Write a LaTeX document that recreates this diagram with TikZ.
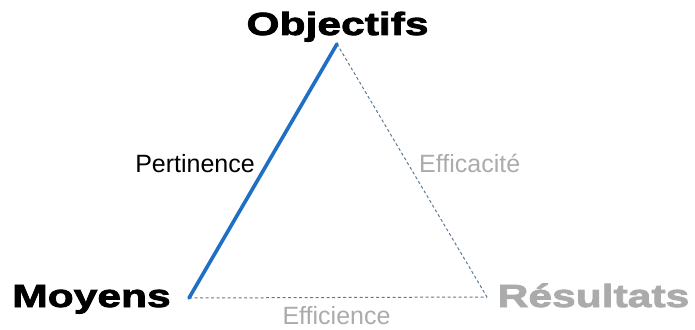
\documentclass[tikz,border=0pt]{standalone}
\usepackage{fontspec}
\setmainfont{Liberation Sans}
\newfontfamily\titlefont[FakeStretch=1.33,FakeBold=2.5]{Liberation Sans}
\usepackage{xcolor}
\usepackage{tikz}
\definecolor{axeblue}{HTML}{1F6FC4}
\definecolor{dashblue}{HTML}{5F7A92}
\definecolor{softgray}{HTML}{ABABAB}

\begin{document}
\begin{tikzpicture}[x=1pt, y=1pt, every node/.style={inner sep=0pt, anchor=base},
  pole/.style={font=\titlefont\bfseries\fontsize{32}{32}\selectfont},
  crit/.style={font=\fontsize{25}{25}\selectfont},
  strong/.style={draw=axeblue, line width=3.6pt, line cap=round},
  weak/.style={draw=dashblue, line width=1pt, dash pattern=on 3pt off 2.5pt}]
\useasboundingbox (0,0) rectangle (695,329);
\coordinate (obj) at (337,285); \coordinate (moy) at (189,31); \coordinate (res) at (487,32);
\node[pole] (tobj) at (337.5,294) {Objectifs};
\node[pole] (tmoy) at (91.5,22) {Moyens};
\node[pole, text=softgray] (tres) at (593.5,22) {Résultats};
\node[crit, anchor=base east] (pert) at (255,156) {Pertinence};
\node[crit, anchor=base west, text=softgray] (effa) at (419,156) {Efficacité};
\node[crit, text=softgray] (effi) at (336.5,5) {Efficience};
\draw[weak] (obj) -- (res); \draw[weak] (moy) -- (res);
\draw[strong] (obj) -- (moy);
\end{tikzpicture}
\end{document}
